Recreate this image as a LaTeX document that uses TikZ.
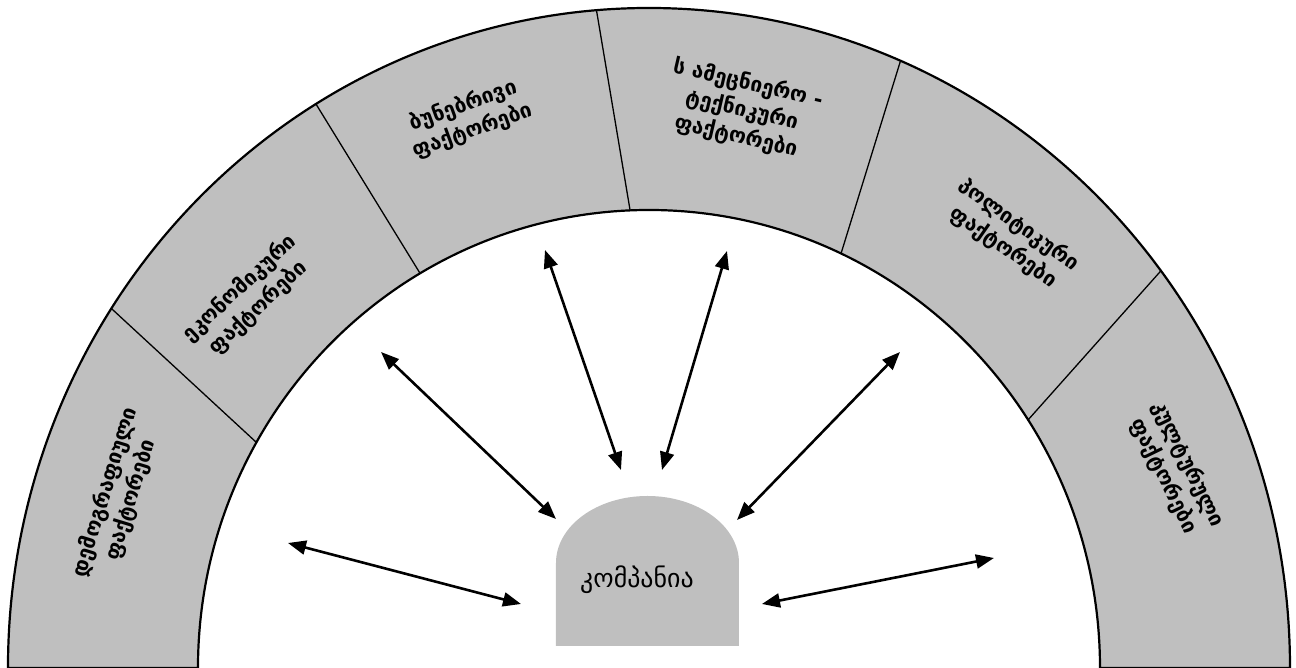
\documentclass[tikz,border=0pt]{standalone}
\usepackage{fontspec}
\newfontfamily\geo{DejaVu Sans}
\usetikzlibrary{arrows.meta}
\definecolor{ringgray}{RGB}{191,191,191}
\tikzset{
  sectorlabel/.style={font=\geo\bfseries\fontsize{21}{27}\selectfont, align=center, inner sep=0pt},
  divider/.style={line width=1.3bp},
  rim/.style={line width=2.2bp, line join=round},
  link/.style={line width=2.6bp, {Triangle[length=18bp,width=14bp]}-{Triangle[length=18bp,width=14bp]}},
}
\begin{document}
\begin{tikzpicture}[x=1bp,y=1bp]
\useasboundingbox (-649,0) rectangle (647,668);

% ring sectors: outer start/end angle, inner start/end angle
\foreach \oa/\ob/\ia/\ib in {180/147/180/150.5, 147/121.3/150.5/120.5, 121.3/94.7/120.5/92.4,
                             94.7/66.9/92.4/64.8, 66.9/37/64.8/32.8, 37/0/32.8/0}{
  \fill[ringgray] (\oa:641bp and 660bp) arc[start angle=\oa, end angle=\ob, x radius=641bp, y radius=660bp]
    -- (\ib:451bp and 458bp) arc[start angle=\ib, end angle=\ia, x radius=451bp, y radius=458bp] -- cycle;
}
% dividers between sectors
\foreach \oa/\ia in {147/150.5, 121.3/120.5, 94.7/92.4, 66.9/64.8, 37/32.8}{
  \draw[divider] (\oa:641bp and 660bp) -- (\ia:451bp and 458bp);
}
% ring outline
\draw[rim] (180:641bp and 660bp) arc[start angle=180, end angle=0, x radius=641bp, y radius=660bp]
  -- (0:451bp and 458bp) arc[start angle=0, end angle=180, x radius=451bp, y radius=458bp] -- cycle;

% sector labels
\node[sectorlabel, rotate=73] (demo) at (-531,172) {დემოგრაფიული\\ფაქტორები};
\node[sectorlabel, rotate=43] (econ) at (-400,370) {ეკონომიკური\\ფაქტორები};
\node[sectorlabel, rotate=20] (nat) at (-181,550) {ბუნებრივი\\ფაქტორები};
\node[sectorlabel, rotate=-13] (sci) at (93,558) {ს ამეცნიერო -\\ტექნიკური\\ფაქტორები};
\node[sectorlabel, rotate=-35] (pol) at (362,432) {პოლიტიკური\\ფაქტორები};
\node[sectorlabel, rotate=-64] (cult) at (527,198) {კულტურული\\ფაქტორები};

% the company block
\fill[ringgray] (-93,22) -- (-93,105) arc[start angle=180, end angle=0, x radius=91.5bp, y radius=67bp]
  -- (90,22) -- cycle;
\node[font=\geo\fontsize{26}{30}\selectfont, inner sep=0pt] (company) at (-12,88) {კომპანია};

% arrow end points
\coordinate (a1o) at (-361,125); \coordinate (a1i) at (-128,64);
\coordinate (a2o) at (-268,316); \coordinate (a2i) at (-93,149);
\coordinate (a3o) at (-104,418); \coordinate (a3i) at (-28,198);
\coordinate (a4o) at (78,417);   \coordinate (a4i) at (13,198);
\coordinate (a5o) at (251,316);  \coordinate (a5i) at (88,148);
\coordinate (a6o) at (345,110);  \coordinate (a6i) at (113,64);

\foreach \k in {1,...,6}{
  \draw[link] (a\k o) -- (a\k i);
}
\end{tikzpicture}
\end{document}
